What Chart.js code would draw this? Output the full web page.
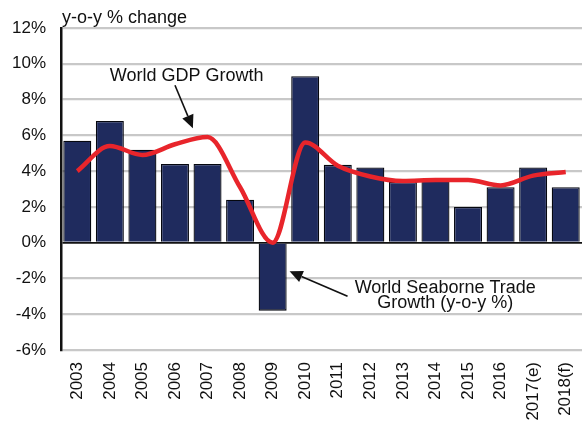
<!DOCTYPE html>
<html>
<head>
<meta charset="utf-8">
<script src="https://cdn.jsdelivr.net/npm/chart.js@4"></script>
<style>
  body { margin: 0; background: #fff; }
  #wrap { width: 582px; height: 421px; position: relative; }
</style>
</head>
<body>
<div id="wrap"><canvas id="tradeChart"></canvas></div>
<script>
// years on the x axis
const years = ["2003", "2004", "2005", "2006", "2007", "2008", "2009", "2010",
  "2011", "2012", "2013", "2014", "2015", "2016", "2017(e)", "2018(f)"];

// seaborne trade growth, y-o-y %
const tradeGrowth = [5.7, 6.8, 5.2, 4.4, 4.4, 2.4, -3.8, 9.3,
  4.35, 4.2, 3.4, 3.5, 2.0, 3.1, 4.2, 3.1];

// world GDP growth, %
const gdpGrowth = [4.0, 5.4, 4.9, 5.5, 5.9, 3.1, 0.0, 5.6,
  4.3, 3.7, 3.45, 3.5, 3.5, 3.2, 3.75, 3.95];

const yTicks = [-6, -4, -2, 0, 2, 4, 6, 8, 10, 12];

const FONT = "'Liberation Sans', Arial, sans-serif";

// draws the y axis title and the two arrow notes
const notes = {
  id: "notes",
  afterDraw(chart) {
    const c = chart.ctx;
    const x = chart.scales.x;
    const y = chart.scales.y;
    // fractional category position -> pixel
    const step = x.getPixelForValue(1) - x.getPixelForValue(0);
    const px = (i) => x.getPixelForValue(0) + i * step;
    const py = (v) => y.getPixelForValue(v);

    c.save();
    c.fillStyle = "#111";
    c.font = "18px " + FONT;
    c.textBaseline = "alphabetic";
    c.textAlign = "left";
    c.fillText("y-o-y % change", chart.chartArea.left + 1, 23);

    function arrow(x1, y1, x2, y2) {
      c.strokeStyle = "#111";
      c.fillStyle = "#111";
      c.lineWidth = 1.6;
      const a = Math.atan2(y2 - y1, x2 - x1);
      const hx = x2 - 13 * Math.cos(a);
      const hy = y2 - 13 * Math.sin(a);
      c.beginPath();
      c.moveTo(x1, y1);
      c.lineTo(hx, hy);
      c.stroke();
      c.beginPath();
      c.moveTo(x2, y2);
      c.lineTo(hx + 6 * Math.sin(a), hy - 6 * Math.cos(a));
      c.lineTo(hx - 6 * Math.sin(a), hy + 6 * Math.cos(a));
      c.closePath();
      c.fill();
    }

    // GDP note
    c.fillStyle = "#111";
    c.textAlign = "center";
    c.fillText("World GDP Growth", px(3.36), py(9.05));
    arrow(px(3.0), py(8.8), px(3.55), py(6.4));

    // trade note
    c.fillStyle = "#111";
    c.fillText("World Seaborne Trade", px(11.3), py(-2.8));
    c.fillText("Growth (y-o-y %)", px(11.3), py(-3.65));
    arrow(px(8.3), py(-3.0), px(6.52), py(-1.6));
    c.restore();
  }
};

new Chart(document.getElementById("tradeChart"), {
  data: {
    labels: years,
    datasets: [
      {
        type: "line",
        label: "World GDP Growth",
        data: gdpGrowth,
        borderColor: "#e8252b",
        borderWidth: 4.5,
        pointRadius: 0,
        cubicInterpolationMode: "monotone",
        order: 0,
      },
      {
        type: "bar",
        label: "World Seaborne Trade Growth (y-o-y %)",
        data: tradeGrowth,
        backgroundColor: "#1f2b5e",
        borderColor: "#05070f",
        borderWidth: 1.3,
        barPercentage: 0.86,
        categoryPercentage: 1,
        order: 1,
      },
    ],
  },
  options: {
    responsive: true,
    maintainAspectRatio: false,
    animation: false,
    layout: { padding: { top: 28, right: 0, left: 0, bottom: 0 } },
    plugins: {
      legend: { display: false },
      tooltip: { enabled: false },
    },
    scales: {
      x: {
        offset: true,
        grid: { display: false },
        border: { display: false },
        ticks: {
          color: "#111",
          font: { family: FONT, size: 17 },
          minRotation: 90,
          maxRotation: 90,
          padding: 4,
        },
        afterFit(scale) {
          scale.height = 71;
          scale.paddingLeft = 0;
          scale.paddingRight = 0;
        },
      },
      y: {
        min: -6,
        max: 12,
        afterBuildTicks(scale) { scale.ticks = yTicks.map((v) => ({ value: v })); },
        grid: {
          color: (ctx) => (ctx.tick && ctx.tick.value === 0 ? "#111" : "#c8c8c8"),
          lineWidth: (ctx) => (ctx.tick && ctx.tick.value === 0 ? 1.8 : 2.2),
          drawTicks: false,
        },
        border: { display: true, color: "#111", width: 2.5 },
        ticks: {
          color: "#111",
          font: { family: FONT, size: 17 },
          padding: 15,
          callback: (v) => v + "%",
        },
        afterFit(scale) {
          scale.width = 61;
          scale.paddingTop = 0;
          scale.paddingBottom = 0;
        },
      },
    },
  },
  plugins: [notes],
});
</script>
</body>
</html>
